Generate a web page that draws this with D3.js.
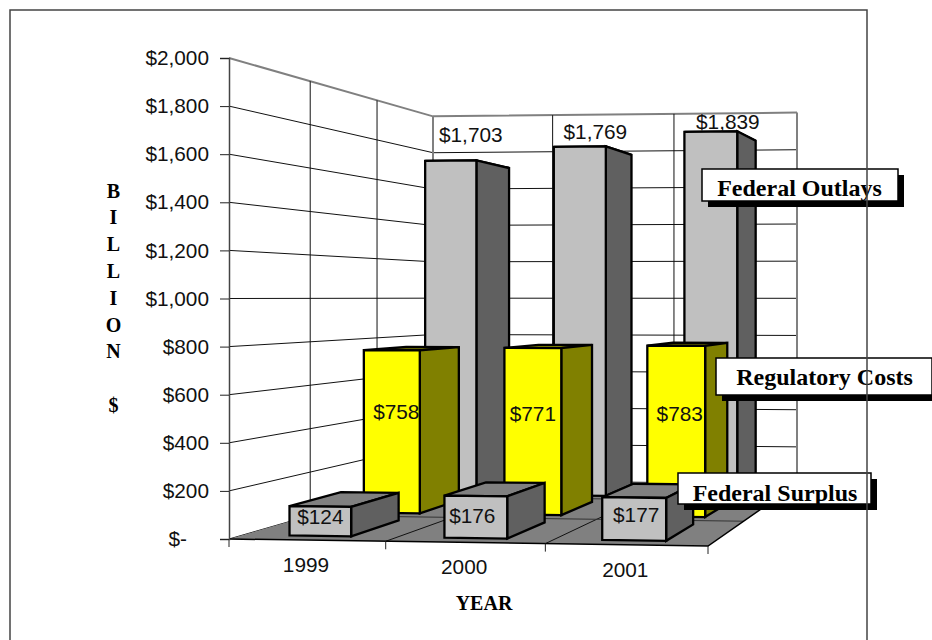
<!DOCTYPE html>
<html>
<head>
<meta charset="utf-8">
<script src="https://cdn.jsdelivr.net/npm/d3@7"></script>
<style>
  html, body { margin: 0; padding: 0; background: #fff; overflow: hidden; }
  svg { display: block; }
  .sans { font-family: "Liberation Sans", Arial, sans-serif; fill: #111; }
  .serif { font-family: "Liberation Serif", "Times New Roman", serif; font-weight: bold; fill: #000; }
</style>
</head>
<body>
<svg id="chart" width="932" height="640"></svg>
<script>
// Budget figures, in billions of dollars
const years = ["1999", "2000", "2001"];
const seriesNames = ["Federal Surplus", "Regulatory Costs", "Federal Outlays"];
const federalSurplus = [124, 176, 177];
const regulatoryCosts = [758, 771, 783];
const federalOutlays = [1703, 1769, 1839];
const valueTicks = [0, 200, 400, 600, 800, 1000, 1200, 1400, 1600, 1800, 2000];
const seriesValues = [federalSurplus, regulatoryCosts, federalOutlays];

// Face colours per series: front, side, top
const faceColors = [
  ["#c0c0c0", "#606060", "#808080"],
  ["#ffff00", "#808000", "#808000"],
  ["#c0c0c0", "#606060", "#808080"]
];
// Value label placement relative to the middle of each bar's top front edge
const labelShift = [
  [[0, 18], [-3.5, 27], [2, 24]],
  [[4.5, 69], [0, 73], [3.5, 75]],
  [[20, -19], [15.5, -8], [17, -3]]
];

const svg = d3.select("#chart");

// Floor corners of the 3-D box on the page: front-left, front-right, back-right, back-left
const floorCorners = [[229, 539], [708, 546], [797, 484], [433, 480]];

// Unit square to floor quad (perspective transform)
function makeFloorTransform(q) {
  const [[x0, y0], [x1, y1], [x2, y2], [x3, y3]] = q;
  const dx1 = x1 - x2, dx2 = x3 - x2, sx = x0 - x1 + x2 - x3;
  const dy1 = y1 - y2, dy2 = y3 - y2, sy = y0 - y1 + y2 - y3;
  const den = dx1 * dy2 - dx2 * dy1;
  const g = (sx * dy2 - dx2 * sy) / den;
  const h = (dx1 * sy - sx * dy1) / den;
  const a = x1 - x0 + g * x1, b = x3 - x0 + h * x3;
  const d = y1 - y0 + g * y1, e = y3 - y0 + h * y3;
  return (s, t) => {
    const w = 1 + g * s + h * t;
    return [(a * s + b * t + x0) / w, (d * s + e * t + y0) / w, w];
  };
}
const floorAt = makeFloorTransform(floorCorners);

// Value axis on the front-left edge
const yFront = d3.scaleLinear().domain([0, 2000]).range([539, 58]);

// Point in box space: s along the years, t into the depth, v the value
function project(s, t, v) {
  const [x, y, w] = floorAt(s, t);
  return [x, y - (yFront(0) - yFront(v)) / w];
}

const sBand = d3.scaleBand().domain(years).range([0, 1]).paddingInner(0.6).paddingOuter(0.3);
const tBand = d3.scaleBand().domain(seriesNames).range([0, 1]).paddingInner(0.33).paddingOuter(0.165);

const polyPath = pts => d3.line()(pts) + "Z";
const sTicks = [0, 1 / 3, 2 / 3, 1];
const tTicks = [0, 1 / 3, 2 / 3, 1];

// Walls
const walls = svg.append("g");
walls.append("path").attr("fill", "#fff")
  .attr("d", polyPath([project(0, 0, 0), project(0, 0, 2000), project(0, 1, 2000), project(0, 1, 0)]));
walls.append("path").attr("fill", "#fff")
  .attr("d", polyPath([project(0, 1, 0), project(0, 1, 2000), project(1, 1, 2000), project(1, 1, 0)]));

// Horizontal gridlines along both walls; the top one reads as the wall outline
valueTicks.forEach(v => {
  const top = v === 2000;
  walls.append("path")
    .attr("d", d3.line()([project(0, 0, v), project(0, 1, v), project(1, 1, v)]))
    .attr("fill", "none")
    .attr("stroke", top ? "#808080" : "#111")
    .attr("stroke-width", top ? 2 : 1);
});
// Upright gridlines on the side wall and back wall
const uprights = [
  ...tTicks.slice(1, 3).map(t => ({ a: project(0, t, 0), b: project(0, t, 2000), edge: false })),
  ...sTicks.slice(1, 3).map(s => ({ a: project(s, 1, 0), b: project(s, 1, 2000), edge: false })),
  ...[0, 1].map(s => ({ a: project(s, 1, 0), b: project(s, 1, 2000), edge: true }))
];
walls.selectAll("line").data(uprights).join("line")
  .attr("x1", d => d.a[0]).attr("y1", d => d.a[1])
  .attr("x2", d => d.b[0]).attr("y2", d => d.b[1])
  .attr("stroke", d => d.edge ? "#808080" : "#111")
  .attr("stroke-width", d => d.edge ? 2 : 1);

// Floor
const floor = svg.append("g");
floor.append("path").attr("fill", "#808080")
  .attr("d", polyPath([project(0, 0, 0), project(1, 0, 0), project(1, 1, 0), project(0, 1, 0)]));
sTicks.slice(1, 3).forEach(s => {
  floor.append("path").attr("fill", "none").attr("stroke", "#111").attr("stroke-width", 1)
    .attr("d", d3.line()([project(s, 0, 0), project(s, 1, 0)]));
});
tTicks.slice(1, 3).forEach(t => {
  floor.append("path").attr("fill", "none").attr("stroke", "#333").attr("stroke-width", 1)
    .attr("d", d3.line()([project(0, t, 0), project(1, t, 0)]));
});
floor.append("path").attr("fill", "none").attr("stroke", "#000").attr("stroke-width", 1.5)
  .attr("d", d3.line()([project(0, 0, 0), project(1, 0, 0), project(1, 1, 0)]));

// Category tick marks below the front floor edge
sTicks.forEach(s => {
  const [x, y] = project(s, 0, 0);
  svg.append("line").attr("x1", x).attr("x2", x).attr("y1", y).attr("y2", y + 8)
    .attr("stroke", "#222").attr("stroke-width", 1);
});

// Value axis
const axis = svg.append("g").attr("transform", "translate(229,0)")
  .call(d3.axisLeft(yFront).tickValues(valueTicks).tickSize(9).tickPadding(11)
    .tickFormat(v => v === 0 ? "$-" : d3.format("$,")(v)));
axis.select(".domain").attr("stroke", "#444").attr("stroke-width", 1.5);
axis.selectAll(".tick line").attr("stroke", "#222");
axis.selectAll(".tick text").attr("class", "sans").style("font-size", "20.8px");
axis.selectAll(".tick").filter(v => v === 0).select("text").attr("dx", -22);

// Bars, drawn from the back row forward
const bars = svg.append("g");
const valueLabels = [];
[2, 1, 0].forEach(row => {
  const name = seriesNames[row];
  const t0 = tBand(name), t1 = t0 + tBand.bandwidth();
  years.forEach((year, i) => {
    const v = seriesValues[row][i];
    const s0 = sBand(year), s1 = s0 + sBand.bandwidth();
    const [front, side, top] = faceColors[row];
    const faces = [
      [top, [project(s0, t0, v), project(s1, t0, v), project(s1, t1, v), project(s0, t1, v)]],
      [side, [project(s1, t0, 0), project(s1, t0, v), project(s1, t1, v), project(s1, t1, 0)]],
      [front, [project(s0, t0, 0), project(s0, t0, v), project(s1, t0, v), project(s1, t0, 0)]]
    ];
    faces.forEach(([color, pts]) => {
      bars.append("path").attr("d", polyPath(pts))
        .attr("fill", color).attr("stroke", "#000").attr("stroke-width", 2.3)
        .attr("stroke-linejoin", "miter");
    });
    const [lx0, ly0] = project(s0, t0, v);
    const [lx1, ly1] = project(s1, t0, v);
    const [dx, dy] = labelShift[row][i];
    valueLabels.push({ x: (lx0 + lx1) / 2 + dx, y: (ly0 + ly1) / 2 + dy, text: d3.format("$,")(v) });
  });
});

svg.append("g").selectAll("text").data(valueLabels).join("text")
  .attr("class", "sans").style("font-size", "20.8px").attr("text-anchor", "middle")
  .attr("x", d => d.x).attr("y", d => d.y).text(d => d.text);

// Year labels follow the sloping front edge
svg.append("g").selectAll("text").data(years).join("text")
  .attr("class", "sans").style("font-size", "20.8px").attr("text-anchor", "middle")
  .attr("x", d => project(sBand(d) + sBand.bandwidth() / 2, 0, 0)[0] - 1)
  .attr("y", d => project(sBand(d) + sBand.bandwidth() / 2, 0, 0)[1] + 32)
  .text(d => d);

// Axis titles
svg.append("text").attr("class", "serif").style("font-size", "20px")
  .attr("text-anchor", "middle").attr("x", 484).attr("y", 610).text("YEAR");
const stacked = ["B", "I", "L", "L", "I", "O", "N", "", "$"];
svg.append("g").selectAll("text").data(stacked).join("text")
  .attr("class", "serif").style("font-size", "20px").attr("text-anchor", "middle")
  .attr("x", 113.5).attr("y", (d, i) => 197.5 + i * 26.8).text(d => d);

// Series callouts with a hard drop shadow
const callouts = [
  { name: seriesNames[2], x: 702, y: 169, w: 196, h: 32, tx: 799.5, ty: 196 },
  { name: seriesNames[1], x: 716, y: 358, w: 216, h: 37, tx: 824.5, ty: 385 },
  { name: seriesNames[0], x: 678, y: 473, w: 193, h: 31, tx: 775, ty: 500.5 }
];
const calloutLayer = svg.append("g");
callouts.forEach(c => {
  calloutLayer.append("rect").attr("x", c.x + 6).attr("y", c.y + 6).attr("width", c.w).attr("height", c.h).attr("fill", "#000");
  calloutLayer.append("rect").attr("x", c.x).attr("y", c.y).attr("width", c.w).attr("height", c.h)
    .attr("fill", "#fff").attr("stroke", "#000").attr("stroke-width", 1.5);
  calloutLayer.append("text").attr("class", "serif").style("font-size", "24px")
    .attr("text-anchor", "middle").attr("x", c.tx).attr("y", c.ty).text(c.name);
});

// Frame around the chart, running off the bottom of the page
svg.append("path").attr("fill", "none").attr("stroke", "#444").attr("stroke-width", 1.5)
  .attr("d", d3.line()([[10, 640], [10, 10], [867, 10], [867, 640]]));
</script>
</body>
</html>
